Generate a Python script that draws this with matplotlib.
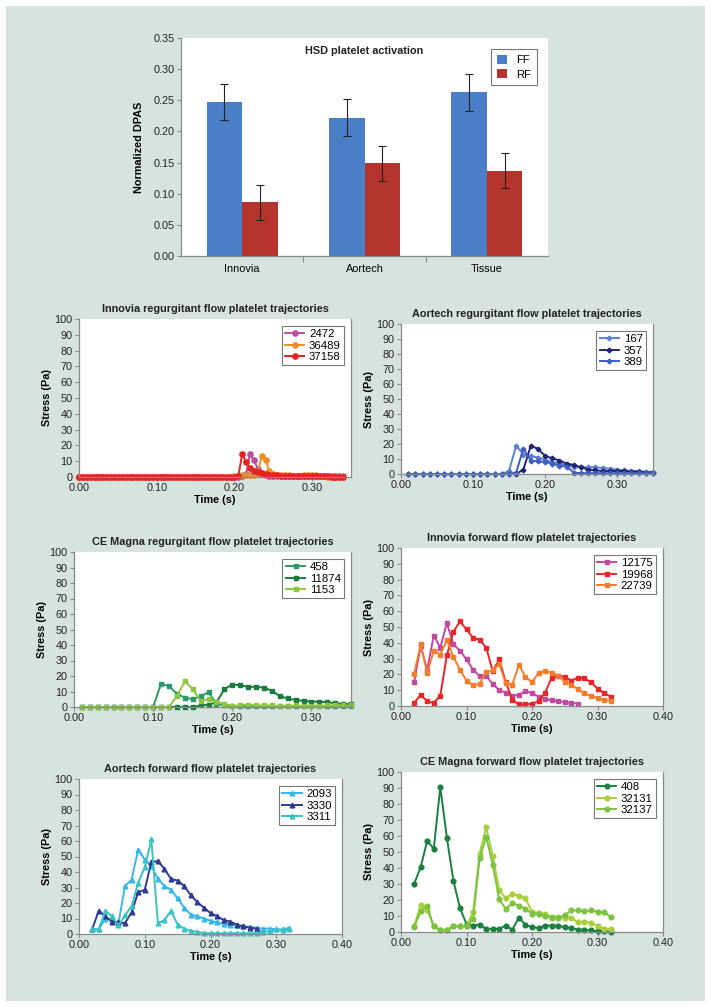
import numpy as np
import matplotlib
matplotlib.use("Agg")
import matplotlib.pyplot as plt
from matplotlib.patches import Rectangle
from matplotlib.ticker import FormatStrFormatter

plt.rcParams['font.family'] = ['Liberation Sans', 'DejaVu Sans']

# ---- bar chart data ----
valves = ['Innovia', 'Aortech', 'Tissue']
ff_mean = [0.247, 0.222, 0.263]
ff_err = [0.029, 0.030, 0.030]
rf_mean = [0.086, 0.149, 0.137]
rf_err = [0.028, 0.028, 0.028]

# ---- Innovia regurgitant (0.005 s steps, 0.00-0.34) ----
t_ir = np.round(np.arange(0, 0.3401, 0.005), 3)
ir_2472 = [0, 0, 0, 0, 0, 0, 0, 0, 0, 0,
           0, 0, 0, 0, 0, 0, 0, 0, 0, 0,
           0, 0, 0, 0, 0, 0, 0, 0, 0, 0,
           0, 0, 0, 0, 0, 0, 0, 0, 0, 0,
           0, 0, 0.5, 2, 14.5, 11, 5, 2, 1, 0.5,
           0.5, 0.5, 0.5, 0.5, 0.5, 0.5, 0.5, 0.5, 0.5, 0.5,
           0.5, 0.5, 0.5, 0.5, 0.5, 0.5, 0.5, 0.5, 0.5]
ir_36489 = [0, 0, 0, 0, 0, 0, 0, 0, 0, 0,
            0, 0, 0, 0, 0, 0, 0, 0, 0, 0,
            0, 0, 0, 0, 0, 0, 0, 0, 0, 0,
            0, 0, 0, 0, 0, 0, 0, 0, 0, 0,
            0.5, 0.8, 1, 1, 1.2, 1.5, 2, 13.5, 10.5, 4,
            2, 1.5, 1.2, 1, 1, 0.8, 0.8, 0.8, 1, 1,
            1.2, 1, 0.8, 0.5, 0.3, 0.2, 0.2, 0.2, 0.2]
ir_37158 = [0, 0, 0, 0, 0, 0, 0, 0, 0, 0,
            0, 0, 0, 0, 0, 0, 0, 0, 0, 0,
            0, 0, 0, 0, 0, 0, 0, 0, 0, 0,
            0, 0, 0, 0, 0, 0, 0, 0, 0, 0,
            0.3, 0.5, 14.5, 9.5, 5.5, 4, 3, 2.5, 2, 1.5,
            1.2, 1, 0.8, 0.7, 0.6, 0.5, 0.5, 0.5, 0.5, 0.5,
            0.5, 0.5, 0.5, 0.4, 0.4, 0.3, 0.3, 0.3, 0.3]

# ---- Aortech regurgitant (0.01-0.35) ----
t_ar = np.round(np.arange(0.01, 0.3501, 0.01), 2)
ar_167 = [0, 0, 0, 0, 0, 0, 0, 0, 0, 0, 0, 0, 0, 0,
          2, 19, 13, 12, 11, 9.5, 8, 7, 6, 5, 4.5, 4.5, 4.5, 4, 3.5, 3, 2.5, 2, 2, 1.5, 1.5]
ar_357 = [0, 0, 0, 0, 0, 0, 0, 0, 0, 0, 0, 0, 0, 0, 0, 0,
          3, 18.5, 17, 12, 10.5, 9, 7, 6, 4.5, 3, 2.5, 2, 2, 2, 2, 1.5, 1.5, 1, 1]
ar_389 = [0, 0, 0, 0, 0, 0, 0, 0, 0, 0, 0, 0, 0, 0, 0,
          1, 17, 9, 8.5, 8, 7, 5.5, 5, 1,
          0.5, 0.5, 0.5, 0.5, 0.5, 0.5, 0.5, 0.5, 0.5, 0.5, 0.5]

# ---- CE Magna regurgitant (0.01-0.35) ----
t_cr = np.round(np.arange(0.01, 0.3501, 0.01), 2)
cr_458 = [0, 0, 0, 0, 0, 0, 0, 0, 0, 0,
          15, 13.5, 8.5, 6, 5, 7, 9.5, 2, 1,
          0.5, 0.5, 0.5, 0.5, 0.5, 0.5, 0.5, 0.5, 0.5, 0.5, 0.5, 0.5, 0.5, 0.5, 0.5, 0.5]
cr_11874 = [0, 0, 0, 0, 0, 0, 0, 0, 0, 0, 0, 0, 0, 0, 0,
            1, 1.5, 3, 11.5, 14.5, 14, 13, 13, 12.5, 10.5, 7, 5.5, 4.5, 4, 3.5, 3.5, 3, 2.5, 2, 2]
cr_1153 = [0, 0, 0, 0, 0, 0, 0, 0, 0, 0, 0, 0,
           7, 16.5, 11.5, 4, 5, 3.5, 2, 0.5,
           1, 1.5, 1, 1, 1, 0.5, 0.5, 1, 0.5, 0.5, 0.5, 1, 1, 1, 1]

# ---- Innovia forward (0.02-0.32) ----
t_if = np.round(np.arange(0.02, 0.3201, 0.01), 2)
if_12175 = [15, 38, 23, 44.5, 37, 52.5, 39, 35, 29.5, 23, 19, 19, 14, 10, 8.5,
            6.5, 7, 9.5, 8, 6, 4.5, 3.5, 3, 2.5, 2, 1.5]
if_19968 = [2, 7, 3, 2, 6.5, 32, 47, 53.5, 48.5, 43, 42, 37, 22, 29.5, 15,
            4, 1, 1, 1.5, 3, 8.5, 18, 19, 18.5, 16, 18, 17.5, 15, 11, 8, 6]
if_22739 = [20, 39, 21, 35, 32.5, 42, 31, 23, 16, 13, 14, 21.5, 22.5, 26.5, 14.5,
            13.5, 26, 18.5, 15, 21, 22, 21, 19, 15.5, 13.5, 10.5, 8, 6.5, 5, 4, 3]

# ---- Aortech forward (0.02-0.32) ----
t_af = np.round(np.arange(0.02, 0.3201, 0.01), 2)
af_2093 = [3, 3, 10, 9, 7, 31, 35, 54.5, 48, 44, 35.5, 31, 28.5, 23, 17,
           12.5, 11.5, 10, 8.5, 7.5, 6.5, 6, 5.5, 5, 4.5, 4, 3.5, 3.5, 3, 2.5, 3]
af_3330 = [3, 15, 11.5, 8, 7.5, 7, 14, 27, 28.5, 46.5, 47, 42, 35.5, 34.5, 31,
           25, 20.5, 17, 13.5, 11.5, 9, 8, 6, 5, 4, 3.5]
af_3311 = [3, 3, 15, 11.5, 5.5, 12, 18, 33, 43, 61, 7, 9, 15, 6, 3.5,
           2, 1.5, 0.5, 0.5, 0.5, 0.5, 0.5, 0.5, 0.5, 0.5, 0.5, 1, 2, 3, 3, 4]

# ---- CE Magna forward (0.02-0.32) ----
t_cf = np.round(np.arange(0.02, 0.3201, 0.01), 2)
cf_408 = [30, 40.5, 57, 52, 90.5, 59, 32, 15, 5, 4, 4.5, 2, 2, 2, 4,
          1.5, 9, 4.5, 3, 2.5, 4, 4, 4, 3, 2.5, 1.5, 1.5, 1, 0.5, 0.5, 0]
cf_32131 = [3.5, 17, 14, 3.5, 1.5, 1.5, 3.5, 3.5, 4, 12.5, 49, 65.5, 47.5, 26, 21,
            24, 22.5, 21, 12.5, 12, 11, 9.5, 9.5, 9, 9, 6, 6.5, 5.5, 4, 2, 2]
cf_32137 = [3, 13, 16, 3.5, 1, 1.5, 3.5, 3.5, 3.5, 8, 46, 59.5, 42, 20.5, 14.5,
            18, 16.5, 14.5, 11.5, 11, 10, 9, 9, 10.5, 13.5, 13.5, 13, 13.5, 12.5, 12.5, 9.5]

W, H = 711, 1007
FS = 7.8
fig = plt.figure(figsize=(W / 100, H / 100), dpi=100, facecolor='white')
fig.patches.append(Rectangle((6 / W, 1 - 1001 / H), 699 / W, 995 / H,
                             transform=fig.transFigure, facecolor='#d7e3df',
                             edgecolor='none', zorder=-10))


def px_rect(x0, y0, x1, y1):
    return [x0 / W, 1 - y1 / H, (x1 - x0) / W, (y1 - y0) / H]


def style_axes(ax):
    ax.set_facecolor('white')
    for s in ['left', 'bottom', 'right']:
        ax.spines[s].set_color('#8a8a8a')
        ax.spines[s].set_linewidth(0.9)
    ax.spines['top'].set_visible(False)
    ax.tick_params(direction='out', length=3, width=0.8, color='#8a8a8a',
                   labelsize=FS, labelcolor='#222222', pad=1.5)


# ---- bar chart ----
ax = fig.add_axes(px_rect(181, 38, 548, 256))
style_axes(ax)
ax.spines['right'].set_visible(False)
x = np.arange(len(valves))
ax.bar(x - 0.145, ff_mean, 0.29, yerr=ff_err, color='#4a7ec6', label='FF',
       error_kw=dict(ecolor='#222222', elinewidth=0.8, capsize=3, capthick=0.8))
ax.bar(x + 0.145, rf_mean, 0.29, yerr=rf_err, color='#b5332d', label='RF',
       error_kw=dict(ecolor='#222222', elinewidth=0.8, capsize=3, capthick=0.8))
ax.set_xlim(-0.5, 2.5)
ax.set_ylim(0, 0.35)
ax.set_yticks(np.arange(0, 0.351, 0.05))
ax.yaxis.set_major_formatter(FormatStrFormatter('%.2f'))
ax.set_xticks([0.5, 1.5])
ax.set_xticklabels([])
ax.set_xticks(x, minor=True)
ax.set_xticklabels(valves, minor=True)
ax.tick_params(axis='x', which='minor', length=0, labelsize=FS, pad=6)
ax.tick_params(axis='x', which='major', length=4)
ax.set_ylabel('Normalized DPAS', fontsize=FS, fontweight='bold', labelpad=7)
ax.text(0.5, 0.965, 'HSD platelet activation', transform=ax.transAxes,
        ha='center', va='top', fontsize=FS, fontweight='bold', color='#222222')
leg = ax.legend(loc='upper right', fontsize=FS + 0.4, fancybox=False, edgecolor='#555555',
                handlelength=0.9, handleheight=0.9, borderpad=0.5, labelspacing=0.3,
                borderaxespad=0.5, bbox_to_anchor=(0.985, 0.975))
leg.get_frame().set_linewidth(0.8)


def trajectory_panel(rect, title, series, xmax, marker, ms):
    ax = fig.add_axes(rect)
    style_axes(ax)
    for name, t, vals, color in series:
        ax.plot(t, vals, color=color, marker=marker, ms=ms, lw=1.4,
                label=name, clip_on=False)
    ax.set_xlim(0, xmax)
    ax.set_ylim(0, 100)
    ax.set_yticks(range(0, 101, 10))
    ax.set_xticks(np.arange(0, xmax + 0.001, 0.1))
    ax.xaxis.set_major_formatter(FormatStrFormatter('%.2f'))
    ax.set_title(title, fontsize=FS, fontweight='bold', color='#222222', pad=5)
    ax.set_xlabel('Time (s)', fontsize=FS, fontweight='bold', labelpad=1)
    ax.set_ylabel('Stress (Pa)', fontsize=FS, fontweight='bold', labelpad=2)
    leg = ax.legend(loc='upper right', fontsize=FS + 0.4, fancybox=False,
                    edgecolor='#555555', handlelength=1.7, borderpad=0.3,
                    labelspacing=0.12, handletextpad=0.4, borderaxespad=0.6)
    leg.get_frame().set_linewidth(0.8)
    return ax


trajectory_panel(px_rect(79, 319, 351, 477), 'Innovia regurgitant flow platelet trajectories',
                 [('2472', t_ir, ir_2472, '#b8509e'),
                  ('36489', t_ir, ir_36489, '#f28c28'),
                  ('37158', t_ir, ir_37158, '#e52421')], 0.35, 'o', 3.8)

trajectory_panel(px_rect(401, 324, 653, 474), 'Aortech regurgitant flow platelet trajectories',
                 [('167', t_ar, ar_167, '#5b7fd1'),
                  ('357', t_ar, ar_357, '#1f2570'),
                  ('389', t_ar, ar_389, '#3f5fbf')], 0.35, 'D', 2.4)

trajectory_panel(px_rect(74, 552, 351, 707), 'CE Magna regurgitant flow platelet trajectories',
                 [('458', t_cr, cr_458, '#2a9a6a'),
                  ('11874', t_cr, cr_11874, '#1b7a3e'),
                  ('1153', t_cr, cr_1153, '#8cc63f')], 0.35, 's', 3.2)

trajectory_panel(px_rect(401, 548, 663, 706), 'Innovia forward flow platelet trajectories',
                 [('12175', t_if[:len(if_12175)], if_12175, '#c04a9e'),
                  ('19968', t_if, if_19968, '#e8262a'),
                  ('22739', t_if, if_22739, '#f47c2c')], 0.40, 's', 3.4)

trajectory_panel(px_rect(79, 779, 342, 934), 'Aortech forward flow platelet trajectories',
                 [('2093', t_af, af_2093, '#39b5e8'),
                  ('3330', t_af[:len(af_3330)], af_3330, '#2e3a8f'),
                  ('3311', t_af, af_3311, '#39c3c3')], 0.40, '^', 3.4)

trajectory_panel(px_rect(401, 772, 663, 932), 'CE Magna forward flow platelet trajectories',
                 [('408', t_cf, cf_408, '#1a8040'),
                  ('32131', t_cf, cf_32131, '#a9cf3a'),
                  ('32137', t_cf, cf_32137, '#7cc243')], 0.40, 'o', 3.4)

fig.savefig('out.png', dpi=100, facecolor='white')
